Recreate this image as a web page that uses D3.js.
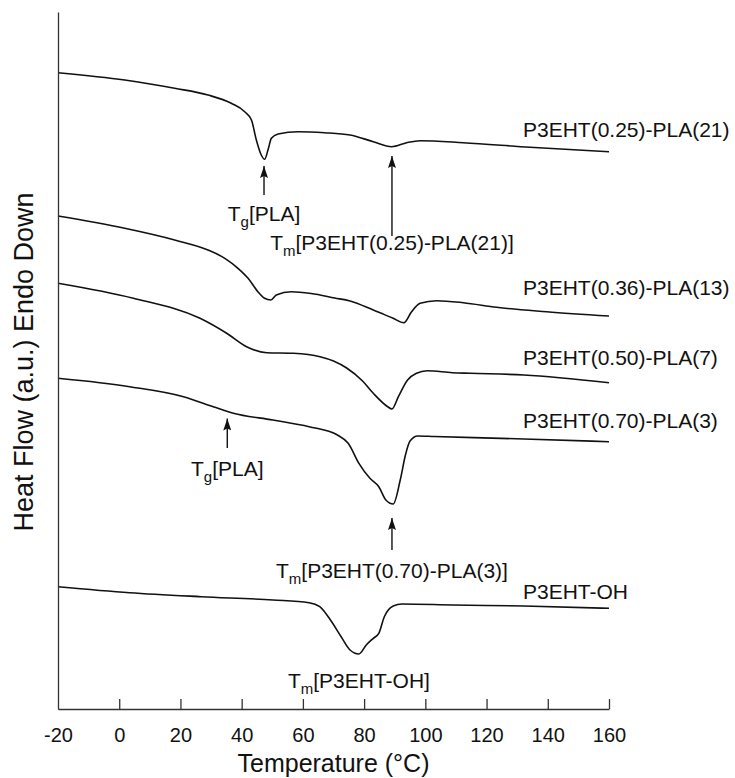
<!DOCTYPE html>
<html>
<head>
<meta charset="utf-8">
<script src="https://cdn.jsdelivr.net/npm/d3@7"></script>
<style>
    body { margin: 0; background: #fff; }
    svg { display: block; font-family: "Liberation Sans", Arial, sans-serif; }
</style>
</head>
<body>
<svg id="chart" width="735" height="778"></svg>
<script>
// DSC traces, temperature in °C, heat flow in a.u. (endo down)
var sampleNames = ["P3EHT(0.25)-PLA(21)", "P3EHT(0.36)-PLA(13)", "P3EHT(0.50)-PLA(7)", "P3EHT(0.70)-PLA(3)", "P3EHT-OH"];

var temp25 = [-20, 1.8, 18.1, 29, 36.6, 41, 43.2, 44.8, 46.4, 47.5, 48.6, 49.7, 51.9, 58.4, 67.1, 75.4, 83, 89, 93.9, 98.3, 112.4, 134.2, 160];
var flow25 = [63.63, 62.9, 62.07, 61.4, 60.57, 59.73, 58.9, 56.9, 55.4, 54.97, 55.9, 57.07, 57.5, 57.73, 57.63, 57.4, 56.73, 56.23, 56.63, 56.83, 56.63, 56.17, 55.73];

var temp36 = [-20, 1.8, 18.1, 29, 34.5, 38.8, 42.1, 45.3, 47.5, 49.5, 51.3, 56.2, 62.7, 70.4, 75.4, 83, 89.5, 93, 95.5, 98.3, 103.7, 112.4, 123.3, 139.6, 160];
var flow36 = [49.3, 48.07, 46.9, 45.9, 45.07, 44.07, 43.07, 41.73, 41.07, 40.9, 41.4, 41.73, 41.55, 41.1, 40.8, 39.9, 39.07, 38.63, 39.73, 40.57, 40.83, 40.63, 40.17, 39.73, 39.3];

var temp50 = [-20, 4.6, 26.4, 35.1, 41.6, 48.2, 56.9, 65.6, 70, 74.3, 79.5, 83, 87.7, 89.1, 91.2, 94.2, 97.1, 100.6, 108.8, 114.7, 132.2, 160];
var flow50 = [42.57, 41.07, 39.07, 37.57, 36.23, 35.63, 35.57, 35.23, 34.8, 34.1, 32.8, 31.57, 30.23, 30.0, 31.23, 32.9, 33.57, 33.83, 33.63, 33.57, 33.4, 32.63];

var temp70 = [-20, 3.4, 21, 30.7, 37.3, 50.2, 62, 71.3, 74.8, 78.3, 81.9, 84.8, 87.1, 89.5, 91.8, 93.5, 95, 97.5, 102.9, 132.2, 160];
var flow70 = [33.07, 32.23, 31.23, 30.23, 29.57, 28.9, 28.23, 27.4, 26.57, 24.57, 23.07, 22.23, 20.9, 20.5, 22.9, 25.4, 26.8, 27.3, 27.25, 27.0, 26.73];

var tempOH = [-20, 3.4, 26.8, 50.2, 62, 65.5, 69, 72.5, 75.4, 78.3, 80.7, 83, 84.8, 86.6, 89.5, 92.4, 108.8, 132.2, 160];
var flowOH = [12.23, 11.63, 11.23, 10.9, 10.63, 10.23, 8.9, 7.23, 5.9, 5.5, 6.4, 7.07, 7.57, 9.23, 10.3, 10.5, 10.4, 10.3, 10.07];

var xTicks = [-20, 0, 20, 40, 60, 80, 100, 120, 140, 160];

// where each trace label sits (temperature, heat flow)
var labelTemp = 131.9;
var labelFlow = [57.2, 41.4, 34.4, 28.1, 11.0];

// transition annotations: T<sub>[rest], arrows point up at the feature
var noteSub = ["g", "m", "g", "m", "m"];
var noteRest = ["[PLA]", "[P3EHT(0.25)-PLA(21)]", "[PLA]", "[P3EHT(0.70)-PLA(3)]", "[P3EHT-OH]"];
var noteTemp = [47.3, 89.1, 35.3, 89.1, 78.3];
var noteFlow = [48.8, 45.9, 23.3, 13.1, 2.1];
var arrowFrom = [51.4, 47.3, 26.1, 15.9, null];
var arrowTo = [54.3, 55.3, 29.05, 19.1, null];

var traces = [
    [temp25, flow25],
    [temp36, flow36],
    [temp50, flow50],
    [temp70, flow70],
    [tempOH, flowOH]
];

var svg = d3.select("#chart");

var x = d3.scaleLinear().domain([-20, 160]).range([58, 609]);
var y = d3.scaleLinear().domain([0, 69.7]).range([709, 12]);

svg.append("rect")
    .attr("width", 735)
    .attr("height", 778)
    .attr("fill", "#fff");

svg.append("defs").append("marker")
    .attr("id", "head")
    .attr("markerUnits", "userSpaceOnUse")
    .attr("viewBox", "0 -4 12 8")
    .attr("refX", 12)
    .attr("refY", 0)
    .attr("markerWidth", 12)
    .attr("markerHeight", 8)
    .attr("orient", "auto")
    .append("path")
    .attr("d", "M0,-4L12,0L0,4L2,0Z")
    .attr("fill", "#111");

var line = d3.line()
    .x(function(d) { return x(d[0]); })
    .y(function(d) { return y(d[1]); })
    .curve(d3.curveMonotoneX);

traces.forEach(function(t) {
    var pts = t[0].map(function(v, i) { return [v, t[1][i]]; });
    svg.append("path")
        .datum(pts)
        .attr("d", line)
        .attr("fill", "none")
        .attr("stroke", "#111")
        .attr("stroke-width", 1.6)
        .attr("stroke-linejoin", "round");
});

// axes
var xAxis = d3.axisBottom(x)
    .tickValues(xTicks)
    .tickFormat(function(d) { return String(d); })
    .tickSizeInner(-10)
    .tickSizeOuter(0)
    .tickPadding(19);

var gx = svg.append("g")
    .attr("transform", "translate(0," + 709 + ")")
    .style("color", "#333")
    .call(xAxis);
gx.selectAll("line, path").attr("stroke-width", 1.3);
gx.selectAll("text")
    .attr("font-size", 20)
    .attr("font-family", "Liberation Sans, Arial, sans-serif")
    .attr("fill", "#111");
gx.selectAll(".tick").filter(function(d) { return d === -20; }).select("line").remove();

var gy = svg.append("g")
    .attr("transform", "translate(" + 58 + ",0)")
    .style("color", "#333")
    .call(d3.axisLeft(y).tickValues([]).tickSizeOuter(0));
gy.selectAll("path").attr("stroke-width", 1.3);

// axis titles
svg.append("text")
    .attr("x", (x.range()[0] + x.range()[1]) / 2)
    .attr("y", 772)
    .attr("text-anchor", "middle")
    .attr("font-size", 25)
    .attr("fill", "#111")
    .text("Temperature (°C)");

svg.append("text")
    .attr("transform", "translate(33,362) rotate(-90)")
    .attr("text-anchor", "middle")
    .attr("font-size", 27)
    .attr("fill", "#111")
    .text("Heat Flow (a.u.) Endo Down");

// trace labels
svg.selectAll(".trace-label")
    .data(sampleNames)
    .enter().append("text")
    .attr("class", "trace-label")
    .attr("x", x(labelTemp))
    .attr("y", function(d, i) { return y(labelFlow[i]); })
    .attr("font-size", 21)
    .attr("fill", "#111")
    .text(function(d) { return d; });

// annotations
noteRest.forEach(function(rest, i) {
    var t = svg.append("text")
        .attr("x", x(noteTemp[i]))
        .attr("y", y(noteFlow[i]))
        .attr("text-anchor", "middle")
        .attr("font-size", 21)
        .attr("fill", "#111");
    t.append("tspan").text("T");
    t.append("tspan").attr("dy", 6).attr("font-size", 15).text(noteSub[i]);
    t.append("tspan").attr("dy", -6).text(rest);

    if (arrowFrom[i] !== null) {
        svg.append("line")
            .attr("x1", x(noteTemp[i]))
            .attr("x2", x(noteTemp[i]))
            .attr("y1", y(arrowFrom[i]))
            .attr("y2", y(arrowTo[i]))
            .attr("stroke", "#111")
            .attr("stroke-width", 1.4)
            .attr("marker-end", "url(#head)");
    }
});
</script>
</body>
</html>
